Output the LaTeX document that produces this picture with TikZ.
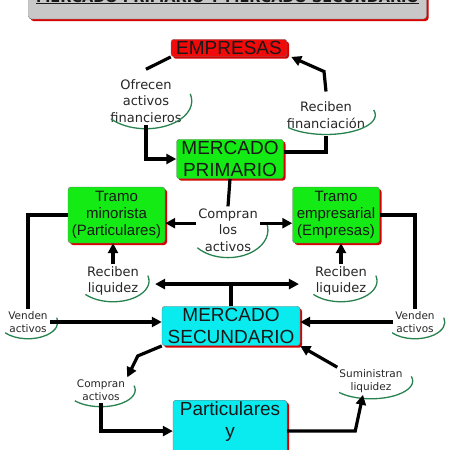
\documentclass[tikz,border=0pt]{standalone}
\usepackage{fontspec}
\usepackage{tikz}
\usetikzlibrary{arrows.meta,positioning,calc,shadows}
\newfontfamily\boxfont{Liberation Sans}
\newfontfamily\phrfont{DejaVu Sans}
\definecolor{cmred}{RGB}{240,10,10}
\definecolor{cmgreen}{RGB}{20,235,20}
\definecolor{cmcyan}{RGB}{10,235,240}
\definecolor{cmgray}{RGB}{200,200,200}
\definecolor{shadred}{RGB}{215,0,0}
\definecolor{arcgreen}{RGB}{40,130,80}
\tikzset{
  concept/.style={draw=black!55, rounded corners=3pt, align=center, text=black!90,
                  font=\boxfont\fontsize{19}{22}\selectfont, inner xsep=3pt, inner ysep=2pt,
                  drop shadow={shadow xshift=2pt, shadow yshift=-2pt, fill=shadred, opacity=1}},
  tramo/.style={concept, font=\boxfont\fontsize{15}{17}\selectfont},
  titlebox/.style={concept, fill=cmgray, font=\phrfont\bfseries\fontsize{14.5}{17}\selectfont,
                   minimum width=398pt, text height=30pt, text depth=15pt, anchor=base},
  linkphr/.style={align=center, inner sep=2pt, text=black!85,
                  font=\phrfont\fontsize{13}{16.5}\selectfont},
  smallphr/.style={linkphr, font=\phrfont\fontsize{10.5}{13}\selectfont},
  conn/.style={line width=3.2pt, black},
  arr/.style={conn, -{Triangle[length=10pt,width=10pt]}},
  arcline/.style={draw=arcgreen, line width=1.3pt},
}
% green swoosh under a linking phrase
\newcommand{\phrarc}[1]{%
  \draw[arcline] let \p1=(#1.center), \p2=(#1.north east),
      \n1={\x2-\x1+8pt}, \n2={\y2-\y1+4pt} in
    (\p1) ++(220:\n1*1pt and \n2*1pt)
    arc[start angle=220, end angle=375, x radius=\n1*1pt, y radius=\n2*1pt];}

\begin{document}
\begin{tikzpicture}[x=1pt,y=-1pt]
  \useasboundingbox (0,0) rectangle (450,450);
  \clip (0,0) rectangle (450,450);
%---------------- title ----------------
  \node[titlebox] (title) at (227.5,2) {\underline{MERCADO PRIMARIO Y MERCADO SECUNDARIO}};
%---------------- concepts ----------------
  \node[concept, fill=cmred, minimum width=116pt] (emp) at (229,48) {EMPRESAS};
  \node[concept, fill=cmgreen, minimum width=107pt] (mp) at (230,159) {MERCADO\\PRIMARIO};
  \node[tramo, fill=cmgreen, minimum width=97pt, minimum height=56pt] (tmin) at (116.5,215)
       {Tramo\\minorista\\(Particulares)};
  \node[tramo, fill=cmgreen, minimum width=87pt, minimum height=56pt] (temp) at (336,215)
       {Tramo\\empresarial\\(Empresas)};
  \node[concept, fill=cmcyan, minimum width=138pt] (ms) at (231,326) {MERCADO\\SECUNDARIO};
  \node[concept, fill=cmcyan, minimum width=114pt, anchor=north] (part) at (230,400)
       {Particulares\\y\\\mbox{}};
%---------------- linking phrases ----------------
  \node[linkphr] (ofrecen) at (146,101) {Ofrecen\\activos\\financieros};
  \node[linkphr] (recfin) at (326,115) {Reciben\\financiación};
  \node[linkphr] (compran) at (228,230) {Compran\\los\\activos};
  \node[linkphr] (recliqL) at (113,281) {Reciben\\liquidez};
  \node[linkphr] (recliqR) at (341,281) {Reciben\\liquidez};
  \node[smallphr] (vendL) at (28,322) {Venden\\activos};
  \node[smallphr] (vendR) at (415,322) {Venden\\activos};
  \node[smallphr] (compact) at (101,390) {Compran\\activos};
  \node[smallphr] (sumin) at (371,381) {Suministran\\liquidez};
  \foreach \phr in {ofrecen,recfin,compran,recliqL,recliqR,vendL,vendR,compact,sumin}
    {\phrarc{\phr}}
%---------------- connectors ----------------
  % primary market loop
  \draw[conn] (emp.south west) -- ([yshift=8pt]ofrecen.north);
  \draw[arr] (ofrecen.south) |- (mp.west);
  \draw[conn] ([yshift=7pt]mp.east) -| (recfin.north |- mp.north);
  \draw[conn] (recfin.north |- mp.north) -- ([yshift=-6pt]recfin.south);
  \draw[arr] ([yshift=8pt]recfin.north) -- ++(-2,-20) -- ([xshift=4pt]emp.south east);
  % who buys in the primary market
  \draw[conn] (mp.south) -- (compran.north);
  \draw[arr] (compran.168) -- (compran.168 -| tmin.east);
  \draw[arr] (compran.12) -- (compran.12 -| temp.west);
  % selling into the secondary market
  \draw[conn] (tmin.west) -| (vendL.north);
  \draw[arr] (vendL.east) -- (vendL.east -| ms.west);
  \draw[conn] (temp.east) -| (vendR.north);
  \draw[arr] (vendR.west) -- (vendR.west -| ms.east);
  % liquidity back to the tramos
  \draw[conn] (ms.north) -- ++(0,-22) coordinate (split);
  \draw[arr] (split) -- ([xshift=14pt]split -| recliqL.east);
  \draw[arr] (split) -- ([xshift=-14pt]split -| recliqR.west);
  \draw[arr] (recliqL.north) -- (recliqL.north |- tmin.south);
  \draw[arr] (recliqR.north) -- (recliqR.north |- temp.south);
  % particulares y empresas
  \draw[arr] (ms.south west) -- ++(-24,10) -- (compact.north east);
  \draw[arr] (compact.south) |- (part.west);
  \draw[arr] (part.east) -- ++(68,0) -- ([xshift=-8pt]sumin.south);
  \draw[arr] (sumin.north west) -- (ms.south east);
\end{tikzpicture}
\end{document}
